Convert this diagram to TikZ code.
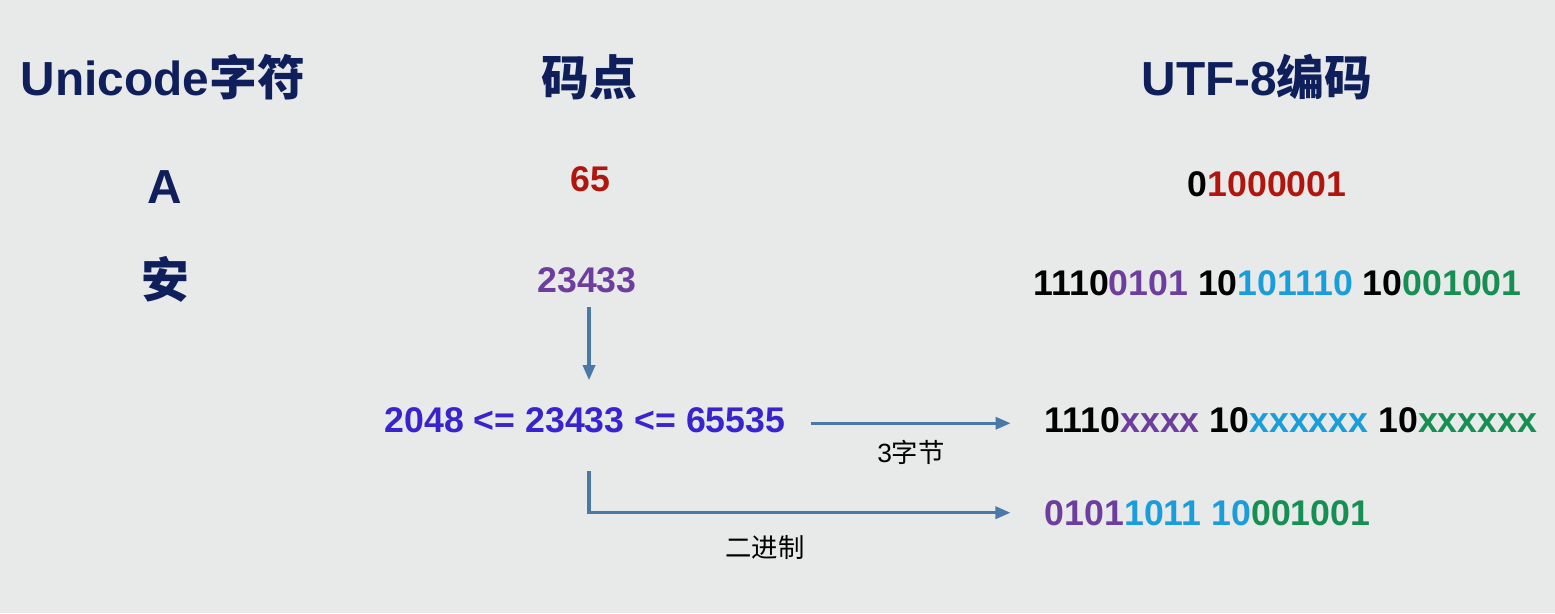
\documentclass[tikz,border=0pt]{standalone}
\usepackage{fontspec}
\setmainfont{Liberation Sans}
\newfontfamily\cjk{Noto Sans CJK SC}
\usetikzlibrary{positioning, arrows.meta}

\definecolor{bg_grey}{HTML}{E8E9E9}
\definecolor{head_navy}{HTML}{0E1F5C}
\definecolor{code_red}{HTML}{B0160E}
\definecolor{code_purple}{HTML}{6E3E9E}
\definecolor{code_cyan}{HTML}{1A9EDB}
\definecolor{code_green}{HTML}{158F52}
\definecolor{range_blue}{HTML}{3A22CF}
\definecolor{arrow_blue}{HTML}{4A78A8}

\tikzset{
    head_text/.style={inner sep=0, anchor=base, text=head_navy, font=\bfseries\fontsize{27.2}{32}\selectfont},
    code_text/.style={inner sep=0, anchor=base, font=\bfseries\fontsize{20.3}{24}\selectfont},
    label_text/.style={inner sep=0, anchor=base, font=\fontsize{15}{18}\selectfont},
    arrow/.style={line width=1.8pt, ->, >={Triangle[length=0.3cm, width=0.24cm]}, draw=arrow_blue},
}

\begin{document}
\begin{tikzpicture}
      \fill[bg_grey] (0,0) rectangle (31.1,12.26);
      \useasboundingbox (0,0) rectangle (31.1,12.26);
      %%%%%%%%%%%
      % Headers %
      %%%%%%%%%%%
      \node (char_head) [head_text] at (3.26,10.34)
          {Unicode{\cjk 字符}};
      \node (point_head) [head_text] at (11.78,10.34)
          {\cjk 码点};
      \node (utf_head) [head_text] at (25.14,10.34)
          {UTF-8{\cjk 编码}};

      %%%%%%%%%%%%%%
      % Characters %
      %%%%%%%%%%%%%%
      \node (char_a) [head_text] at (3.3,8.2)
          {A};
      \node (char_an) [head_text] at (3.3,6.32)
          {\cjk 安};
      \node (point_a) [code_text, text=code_red] at (11.8,8.44)
          {65};
      \node (point_an) [code_text, text=code_purple] at (11.74,6.42)
          {23433};
      \node (utf_a) [code_text] at (25.34,8.32)
          {0\textcolor{code_red}{1000001}};
      \node (utf_an) [code_text] at (25.55,6.36)
          {1110\textcolor{code_purple}{0101} 10\textcolor{code_cyan}{101110} 10\textcolor{code_green}{001001}};

      %%%%%%%%%%%%%%
      % Conversion %
      %%%%%%%%%%%%%%
      \node (range_check) [code_text, text=range_blue] at (11.7,3.62)
          {2048 <= 23433 <= 65535};
      \node (utf_template) [code_text] at (25.82,3.62)
          {1110\textcolor{code_purple}{xxxx} 10\textcolor{code_cyan}{xxxxxx} 10\textcolor{code_green}{xxxxxx}};
      \node (an_binary) [code_text] at (24.15,1.76)
          {\textcolor{code_purple}{0101}\textcolor{code_cyan}{1011 10}\textcolor{code_green}{001001}};
      \node (bytes_label) [label_text] at (18.22,3.02)
          {3{\cjk 字节}};
      \node (binary_label) [label_text] at (15.3,1.12)
          {\cjk 二进制};

      \draw [arrow, shorten <=0.28cm, shorten >=0.53cm] ([xshift=0.04cm]point_an.south) -- ([xshift=0.04cm]point_an.south |- range_check.north);
      \draw [arrow, shorten <=0.5cm, shorten >=0.68cm] ([yshift=-0.07cm]range_check.east) -- ([yshift=-0.07cm]range_check.east -| utf_template.west);
      \draw [arrow, shorten <=0.76cm, shorten >=0.68cm] ([xshift=0.08cm]range_check.south) |- (an_binary.west);

    \end{tikzpicture}
\end{document}
